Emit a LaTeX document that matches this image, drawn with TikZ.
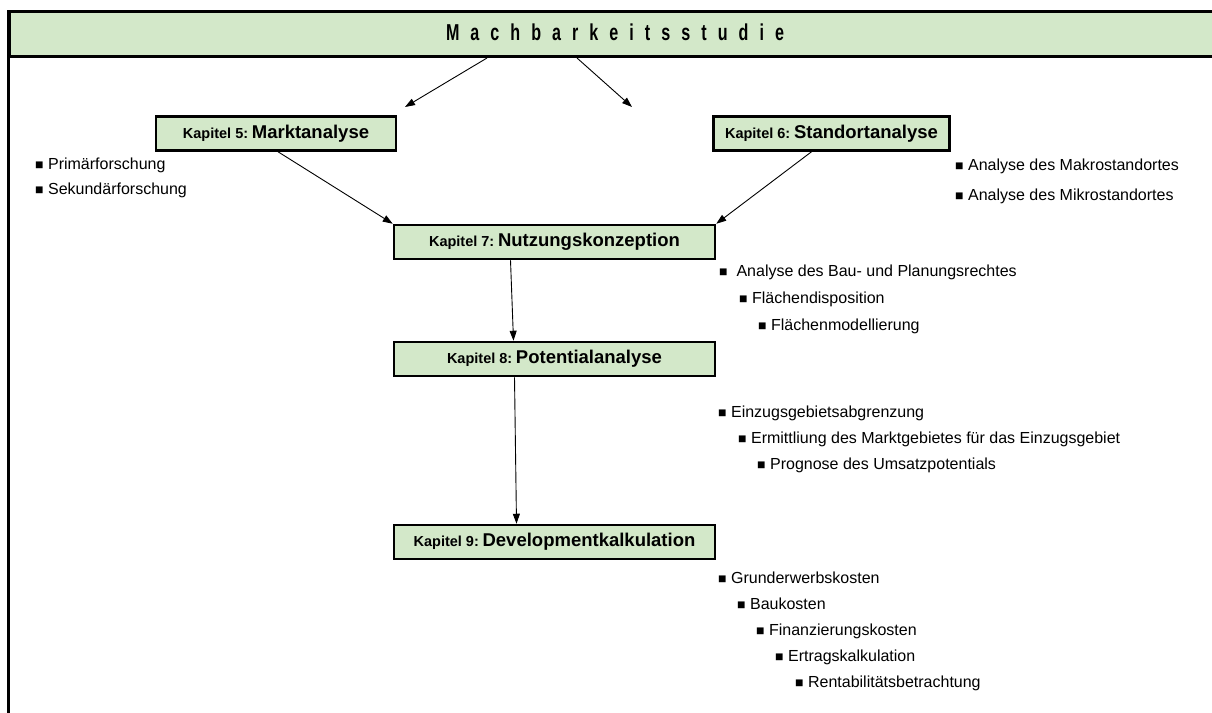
\documentclass[tikz,border=0pt]{standalone}
\usepackage{fontspec}
\setmainfont{Liberation Sans}
\newfontfamily\titlefont[FakeStretch=0.7,LetterSpace=48]{Liberation Sans}
\usetikzlibrary{arrows.meta}
\definecolor{boxgreen}{RGB}{211,232,201}
\newcommand{\bsq}{{\fontsize{14}{14}\selectfont ■}}
\begin{document}
\begin{tikzpicture}[x=1pt,y=-1pt,
  chap/.style={draw=black,line width=2.5pt,fill=boxgreen,minimum height=34pt,inner sep=0pt,font=\bfseries},
  arr/.style={line width=0.9pt,-{Triangle[length=10pt,width=7pt]}},
  item/.style={anchor=west,inner sep=0pt,font=\fontsize{16}{18}\selectfont},
]
\useasboundingbox (0,0) rectangle (1212,712);
\begin{scope}
\clip (0,0) rectangle (1212,712);
\draw[line width=3pt] (8,10) -- (8,730);
\node[draw,line width=3pt,fill=boxgreen,minimum width=1230pt,minimum height=45pt,anchor=north west,inner sep=0pt] (hdr) at (8,10) {};
\end{scope}
\node[inner sep=0pt,font=\titlefont\bfseries\fontsize{23}{25}\selectfont] (title) at (615,32.5) {Machbarkeitsstudie};

\node[chap,minimum width=240pt] (k5) at (276,133.5) {{\fontsize{14.5}{16}\selectfont Kapitel 5:} {\fontsize{18.5}{20}\selectfont Marktanalyse}};
\node[chap,minimum width=236pt] (k6) at (831.5,133.5) {{\fontsize{14.5}{16}\selectfont Kapitel 6:} {\fontsize{18.5}{20}\selectfont Standortanalyse}};
\node[chap,minimum width=321pt] (k7) at (554.5,242) {{\fontsize{14.5}{16}\selectfont Kapitel 7:} {\fontsize{18.5}{20}\selectfont Nutzungskonzeption}};
\node[chap,minimum width=321pt] (k8) at (554.5,359) {{\fontsize{14.5}{16}\selectfont Kapitel 8:} {\fontsize{18.5}{20}\selectfont Potentialanalyse}};
\node[chap,minimum width=321pt] (k9) at (554.5,542) {{\fontsize{14.5}{16}\selectfont Kapitel 9:} {\fontsize{18.5}{20}\selectfont Developmentkalkulation}};

\coordinate (a1) at (405,107);
\coordinate (a2) at (632,107);
\draw[arr] (hdr.south -| 487,0) -- (a1);
\draw[arr] (hdr.south -| 577,0) -- (a2);
\draw[arr] ([xshift=2pt]k5.south) -- (k7.north west);
\draw[arr] ([xshift=-20pt]k6.south) -- (k7.north east);
\draw[arr] ([xshift=-44pt]k7.south) -- ([xshift=-41pt]k8.north);
\draw[arr] ([xshift=-40pt]k8.south) -- ([xshift=-38pt]k9.north);

\node[item] (p1) at (35,165) {\bsq\ Primärforschung};
\node[item] (p2) at (35,190) {\bsq\ Sekundärforschung};
\node[item] (s1) at (955,166) {\bsq\ Analyse des Makrostandortes};
\node[item] (s2) at (955,196) {\bsq\ Analyse des Mikrostandortes};
\node[item] (n1) at (719,272) {\bsq\ \ Analyse des Bau- und Planungsrechtes};
\node[item] (n2) at (739,299) {\bsq\ Flächendisposition};
\node[item] (n3) at (758,326) {\bsq\ Flächenmodellierung};
\node[item] (e1) at (718,413) {\bsq\ Einzugsgebietsabgrenzung};
\node[item] (e2) at (738,439) {\bsq\ Ermittliung des Marktgebietes für das Einzugsgebiet};
\node[item] (e3) at (757,465) {\bsq\ Prognose des Umsatzpotentials};
\node[item] (d1) at (718,578) {\bsq\ Grunderwerbskosten};
\node[item] (d2) at (737,604) {\bsq\ Baukosten};
\node[item] (d3) at (756,631) {\bsq\ Finanzierungskosten};
\node[item] (d4) at (775,657) {\bsq\ Ertragskalkulation};
\node[item] (d5) at (795,683) {\bsq\ Rentabilitätsbetrachtung};
\end{tikzpicture}
\end{document}
